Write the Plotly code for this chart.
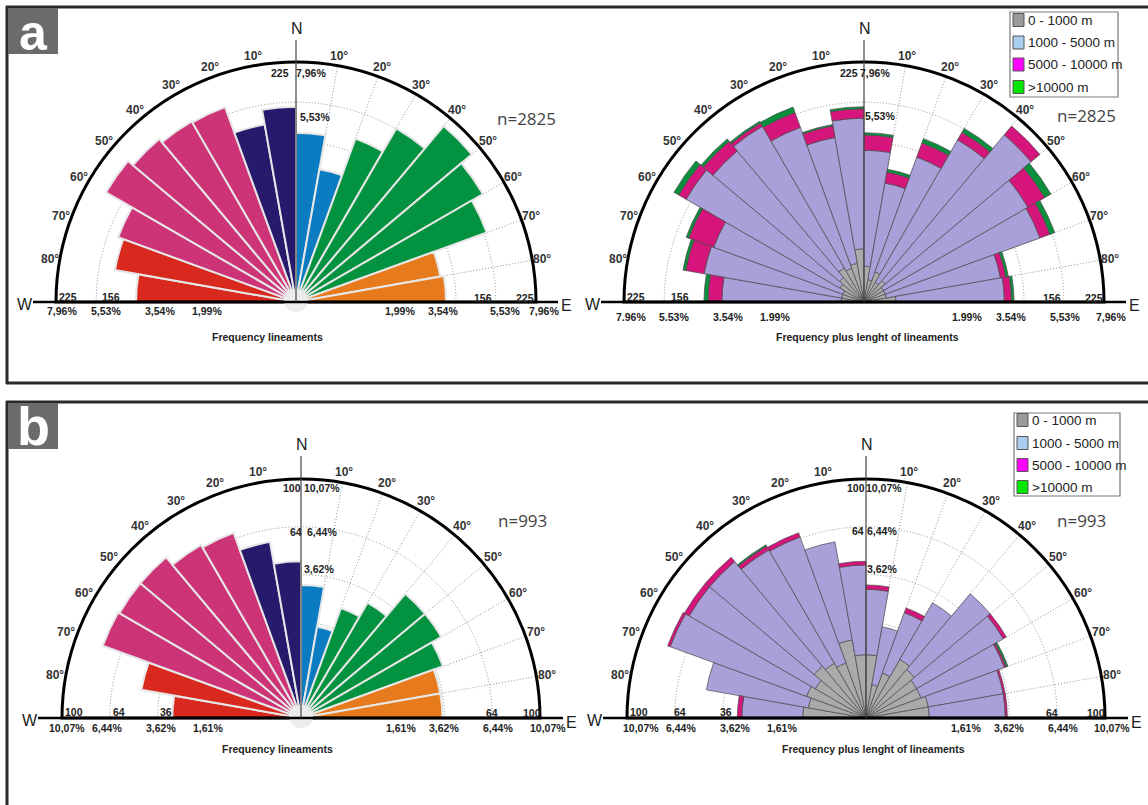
import numpy as np
import plotly.graph_objects as go

W, H = 1148, 805

# ---------------- data ----------------
bin_centers = [-85, -75, -65, -55, -45, -35, -25, -15, -5, 5, 15, 25, 35, 45, 55, 65, 75, 85]
angle_ticks = [-80, -70, -60, -50, -40, -30, -20, -10, 10, 20, 30, 40, 50, 60, 70, 80]
length_classes = ["0 - 1000 m", "1000 - 5000 m", "5000 - 10000 m", ">10000 m"]

# panel a (n=2825)
freq_a = [100, 132, 140, 188, 177, 170, 168, 127, 149, 112, 71, 118, 157, 206, 182, 161, 84, 88]
len_a_0_1000 = [2, 2, 2, 3, 4, 6, 5, 6, 11, 5, 2, 4, 2, 3, 2, 2, 2, 4]
len_a_1000_5000 = [77, 101, 98, 162, 148, 155, 130, 103, 121, 85, 55, 89, 135, 183, 138, 135, 73, 73]
len_a_5000_10000 = [16, 25, 36, 14, 20, 6, 24, 16, 14, 19, 11, 19, 13, 20, 30, 16, 6, 8]
len_a_gt_10000 = [5, 4, 4, 9, 5, 3, 9, 2, 3, 3, 3, 6, 7, 0, 12, 8, 3, 3]
rings_a = [56.25, 100, 156, 225]

# panel b (n=993)
freq_b = [29, 46, 78, 77, 77, 70, 68, 56, 43, 31, 15, 24, 31, 46, 46, 40, 35, 35]
len_b_0_1000 = [7, 6, 7, 6, 8, 7, 6, 11, 7, 7, 2, 4, 8, 7, 6, 6, 7, 7]
len_b_1000_5000 = [20, 40, 69, 67, 65, 59, 59, 45, 34, 22, 13, 18, 23, 39, 38, 32, 27, 27]
len_b_5000_10000 = [2, 0, 2, 4, 4, 3, 3, 0, 2, 2, 0, 2, 0, 0, 2, 1, 1, 1]
len_b_gt_10000 = [0, 0, 0, 0, 0, 1, 0, 0, 0, 0, 0, 0, 0, 0, 0, 1, 0, 0]
rings_b = [16, 36, 64, 100]

# ---------------- styles ----------------
RED, PINK, NAVY, BLUE, GREEN, ORANGE = "#d9281e", "#cd3478", "#27196c", "#0b7cc2", "#03923f", "#e87a1e"
sector_colors = [RED, RED, PINK, PINK, PINK, PINK, PINK, NAVY, NAVY,
                 BLUE, BLUE, GREEN, GREEN, GREEN, GREEN, GREEN, ORANGE, ORANGE]
class_colors = ["#aaaaaa", "#a99fd9", "#d5157b", "#0a8f3d"]
legend_colors = ["#9a9a9a", "#a8cdee", "#ff00ff", "#00e600"]
GRID = "#8f8f8f"

# rose geometry (pixels)
roses = [
    dict(cx=296, cy=302, R=240),
    dict(cx=864, cy=302, R=240),
    dict(cx=301, cy=718, R=239),
    dict(cx=866, cy=718, R=239),
]

def px(x):
    return x / W

def py(y):
    return 1 - y / H

fig = go.Figure()

# left roses: frequency (equal-area: radius = sqrt(count))
for k, freq in enumerate([freq_a, freq_b]):
    sub = "polar" if k == 0 else "polar3"
    fig.add_trace(go.Barpolar(
        r=np.sqrt(freq), theta=bin_centers, width=[10] * len(bin_centers),
        marker=dict(color=sector_colors, line=dict(color="#e6e6e6", width=2)),
        subplot=sub, showlegend=False, hoverinfo="skip"))

# right roses: stacked by length class (equal-area -> sqrt of cumulative counts)
for k, classes in enumerate([
        [len_a_0_1000, len_a_1000_5000, len_a_5000_10000, len_a_gt_10000],
        [len_b_0_1000, len_b_1000_5000, len_b_5000_10000, len_b_gt_10000]]):
    sub = "polar2" if k == 0 else "polar4"
    cum = np.cumsum(np.array(classes, dtype=float), axis=0)
    rr = np.sqrt(cum)
    prev = np.zeros(len(bin_centers))
    for i, name in enumerate(length_classes):
        fig.add_trace(go.Barpolar(
            r=rr[i] - prev, theta=bin_centers, width=[10] * len(bin_centers),
            marker=dict(color=class_colors[i], line=dict(color="#4a4a4a", width=0.7)),
            name=name, subplot=sub, showlegend=False, hoverinfo="skip"))
        prev = rr[i]

ring_sets = [rings_a, rings_a, rings_b, rings_b]
polar_names = ["polar", "polar2", "polar3", "polar4"]
layout_polars = {}
for name, rose, rings in zip(polar_names, roses, ring_sets):
    cx, cy, R = rose["cx"], rose["cy"], rose["R"]
    layout_polars[name] = dict(
        domain=dict(x=[px(cx - R), px(cx + R)], y=[py(cy), py(cy - R)]),
        sector=[0, 180], bgcolor="white", bargap=0, barmode="stack",
        angularaxis=dict(rotation=90, direction="clockwise", tickmode="array",
                         tickvals=[t % 360 for t in angle_ticks], showticklabels=False, ticks="",
                         showline=True, linecolor="black", linewidth=3,
                         showgrid=True, gridcolor=GRID, gridwidth=1, griddash="1px,2px"),
        radialaxis=dict(range=[0, np.sqrt(rings[-1])], tickmode="array",
                        tickvals=list(np.sqrt(rings[:-1])), showticklabels=False, ticks="",
                        showline=False, showgrid=True, gridcolor=GRID, gridwidth=1,
                        griddash="1px,2px"),
    )

shapes = []
annotations = []

def txt(x, y, s, size=10.5, bold=True, color="#222222", family="Liberation Sans", xanchor="center"):
    annotations.append(dict(x=px(x), y=py(y), xref="paper", yref="paper", text=s, showarrow=False,
                            xanchor=xanchor, yanchor="middle",
                            font=dict(size=size, color=color, family=family,
                                      weight="bold" if bold else "normal")))

def line(x0, y0, x1, y1, color="black", width=2):
    shapes.append(dict(type="line", xref="paper", yref="paper", x0=px(x0), y0=py(y0),
                       x1=px(x1), y1=py(y1), line=dict(color=color, width=width), layer="above"))

# panel frames
line(6, 7, 1148, 7, "#2a2a2a", 3)
line(7, 6, 7, 384, "#2a2a2a", 3)
line(6, 383, 1148, 383, "#2a2a2a", 3)
line(6, 402, 1148, 402, "#2a2a2a", 3)
line(7, 401, 7, 805, "#2a2a2a", 3)

# panel letters
for (y0, y1, letter, yc) in [(8, 54, "a", 33), (403, 449, "b", 426)]:
    shapes.append(dict(type="rect", xref="paper", yref="paper", x0=px(8), x1=px(58), y0=py(y1), y1=py(y0),
                       fillcolor="#6b6b6b", line=dict(width=0), layer="above"))
    txt(33, yc, letter, size=50 if letter == "a" else 54, bold=True, color="white")

# axes decorations for each rose
for idx, rose in enumerate(roses):
    cx, cy, R = rose["cx"], rose["cy"], rose["R"]
    if idx in (0, 2):
        shapes.append(dict(type="circle", xref="paper", yref="paper", x0=px(cx - 12), x1=px(cx + 12),
                           y0=py(cy + 10), y1=py(cy - 13), fillcolor="rgba(236,236,236,0.95)",
                           line=dict(width=0), layer="above"))
    line(cx - 263, cy, cx + 262, cy, "black", 2.5)
    line(cx, cy - 262, cx, cy, "#444444", 1.2)
    txt(cx + 1, cy - 274, "N", size=16, bold=False, color="#222222")
    txt(cx - 271, cy + 2, "W", size=16, bold=False, color="#222222")
    txt(cx + 270, cy + 4, "E", size=16, bold=False, color="#222222")
    for t in angle_ticks:
        a = np.radians(t)
        txt(cx + 250 * np.sin(a), cy - 250 * np.cos(a), f"{abs(t)}°", size=12, bold=True, color="#333333")

# ring labels
ring_labels = [
    # a-left
    ("225", 280, 73), ("7,96%", 311, 73), ("5,53%", 315, 117),
    ("225", 68, 297), ("156", 111, 297), ("156", 483, 298), ("225", 525, 298),
    ("7,96%", 62, 311), ("5,53%", 106, 311), ("3,54%", 160, 311), ("1,99%", 207, 311),
    ("1,99%", 400, 311), ("3,54%", 443, 311), ("5,53%", 505, 311), ("7,96%", 544, 311),
    # a-right
    ("225", 849, 73), ("7,96%", 875, 73), ("5,53%", 880, 116),
    ("225", 636, 297), ("156", 680, 297), ("156", 1052, 298), ("225", 1094, 298),
    ("7.96%", 631, 317), ("5.53%", 674, 317), ("3.54%", 728, 317), ("1.99%", 775, 317),
    ("1.99%", 967, 317), ("3.54%", 1011, 317), ("5,53%", 1065, 317), ("7,96%", 1111, 317),
    # b-left
    ("100", 292, 488), ("10,07%", 322, 488), ("64", 296, 532), ("6,44%", 322, 532), ("3,62%", 319, 569),
    ("100", 74, 712), ("64", 119, 712), ("36", 166, 712), ("64", 492, 713), ("100", 532, 713),
    ("10,07%", 67, 728), ("6,44%", 107, 728), ("3,62%", 161, 728), ("1,61%", 208, 728),
    ("1,61%", 401, 728), ("3,62%", 444, 728), ("6,44%", 498, 728), ("10,07%", 548, 728),
    # b-right
    ("100", 856, 488), ("10,07%", 884, 488), ("64", 858, 531), ("6,44%", 882, 531), ("3,62%", 882, 569),
    ("100", 639, 712), ("64", 680, 712), ("36", 726, 712), ("64", 1052, 713), ("100", 1096, 713),
    ("10,07%", 641, 728), ("6,44%", 681, 728), ("3,62%", 735, 728), ("1,61%", 782, 728),
    ("1,61%", 966, 728), ("3,62%", 1009, 728), ("6,44%", 1063, 728), ("10,07%", 1112, 728),
]
for s, x, y in ring_labels:
    txt(x, y, s, size=10.5, bold=True)

# n labels and subtitles
txt(526, 118, "n=2825", size=17, bold=False, color="#444444", family="Open Sans")
txt(1086, 116, "n=2825", size=17, bold=False, color="#444444", family="Open Sans")
txt(522, 520, "n=993", size=17, bold=False, color="#444444", family="Open Sans")
txt(1081, 520, "n=993", size=17, bold=False, color="#444444", family="Open Sans")
txt(267, 337, "Frequency lineaments", size=10.5, bold=True)
txt(867, 337, "Frequency plus lenght of lineaments", size=10.5, bold=True)
txt(277, 749, "Frequency lineaments", size=10.5, bold=True)
txt(873, 749, "Frequency plus lenght of lineaments", size=10.5, bold=True)

# manual legends
for (bx0, by0, bx1, by1, ys) in [(1010, 12, 1118, 97, [20, 42.5, 64.5, 87]),
                                 (1014, 413, 1120, 496, [420, 443, 465, 487])]:
    shapes.append(dict(type="rect", xref="paper", yref="paper", x0=px(bx0), x1=px(bx1), y0=py(by1), y1=py(by0),
                       fillcolor="white", line=dict(color="#7a7a7a", width=1.2), layer="above"))
    for yc, lab, col in zip(ys, length_classes, legend_colors):
        shapes.append(dict(type="rect", xref="paper", yref="paper", x0=px(bx0 + 3), x1=px(bx0 + 14),
                           y0=py(yc + 6.5), y1=py(yc - 6.5), fillcolor=col,
                           line=dict(color="#555555", width=1), layer="above"))
        txt(bx0 + 16, yc, lab, size=13.5, bold=False, color="#222222", xanchor="left")

fig.update_layout(
    width=W, height=H, margin=dict(l=0, r=0, t=0, b=0),
    paper_bgcolor="white", plot_bgcolor="white", showlegend=False,
    shapes=shapes, annotations=annotations, **layout_polars,
)

fig.write_html("out.html", config={"displayModeBar": False},
               post_script="document.body.style.margin='0px';")
